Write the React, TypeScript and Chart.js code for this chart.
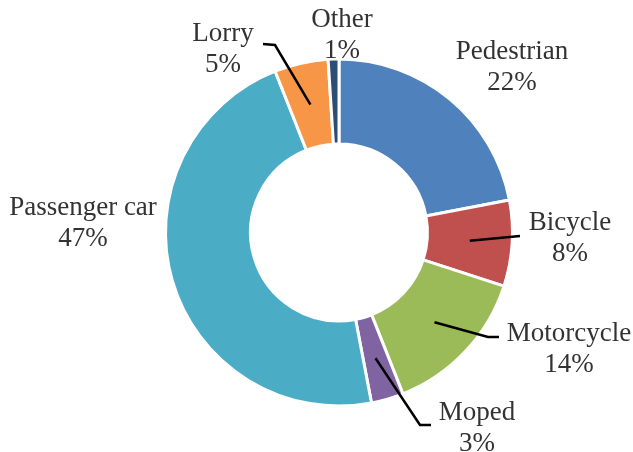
import React, { useEffect, useRef } from "react";
import { Chart, registerables } from "chart.js";

Chart.register(...registerables);

const categories = ["Pedestrian", "Bicycle", "Motorcycle", "Moped", "Passenger car", "Lorry", "Other"];
const shares = [22, 8, 14, 3, 47, 5, 1];
const colors = ["#4F81BD", "#C0504D", "#9BBB59", "#8064A2", "#4BACC6", "#F79646", "#2C4D75"];

// label layout: text centre x, first-line baseline y
const labelAnchors: [number, number][] = [
  [512, 59],
  [570, 230],
  [569, 341],
  [477, 420],
  [83, 215],
  [223, 41],
  [342, 27],
];
// leader line waypoints after the slice centre point (null = no leader)
const leaderPaths: ([number, number][] | null)[] = [
  null,
  [[520, 236]],
  [[488, 337], [499, 337]],
  [[420, 425], [431, 425]],
  null,
  [[275, 45], [263, 44]],
  null,
];

const FONT = '27px "Liberation Serif", "Times New Roman", serif';
const LINE_GAP = 31;

const labelPlugin = {
  id: "outerLabels",
  afterDatasetsDraw(chart: any) {
    const ctx = chart.ctx;
    const meta = chart.getDatasetMeta(0);
    const data = chart.data.datasets[0].data as number[];
    const total = data.reduce((a, b) => a + b, 0);
    ctx.save();
    meta.data.forEach((arc: any, i: number) => {
      const path = leaderPaths[i];
      if (path) {
        const c = arc.getCenterPoint();
        ctx.beginPath();
        ctx.moveTo(c.x, c.y);
        path.forEach((p) => ctx.lineTo(p[0], p[1]));
        ctx.strokeStyle = "#000000";
        ctx.lineWidth = 2.5;
        ctx.lineJoin = "miter";
        ctx.stroke();
      }
    });
    ctx.font = FONT;
    ctx.fillStyle = "#333333";
    ctx.textAlign = "center";
    ctx.textBaseline = "alphabetic";
    meta.data.forEach((_arc: any, i: number) => {
      const [x, y] = labelAnchors[i];
      const pct = Math.round((data[i] / total) * 100) + "%";
      ctx.fillText(chart.data.labels[i], x, y);
      ctx.fillText(pct, x, y + LINE_GAP);
    });
    ctx.restore();
  },
};

export default function App() {
  const ref = useRef<HTMLCanvasElement | null>(null);
  useEffect(() => {
    if (!ref.current) return;
    const chart = new Chart(ref.current, {
      type: "doughnut",
      data: {
        labels: categories,
        datasets: [
          {
            data: shares,
            backgroundColor: colors,
            borderColor: "#ffffff",
            borderWidth: 3,
          },
        ],
      },
      options: {
        responsive: false,
        animation: false,
        cutout: "51%",
        layout: { padding: { left: 164, right: 119, top: 57.5, bottom: 44.5 } },
        plugins: {
          legend: { display: false },
          tooltip: { enabled: false },
        },
      },
      plugins: [labelPlugin],
    });
    return () => chart.destroy();
  }, []);
  return (
    <div style={{ position: "fixed", left: 0, top: 0, width: 633, height: 452, background: "#ffffff" }}>
      <canvas ref={ref} width={633} height={452} />
    </div>
  );
}
